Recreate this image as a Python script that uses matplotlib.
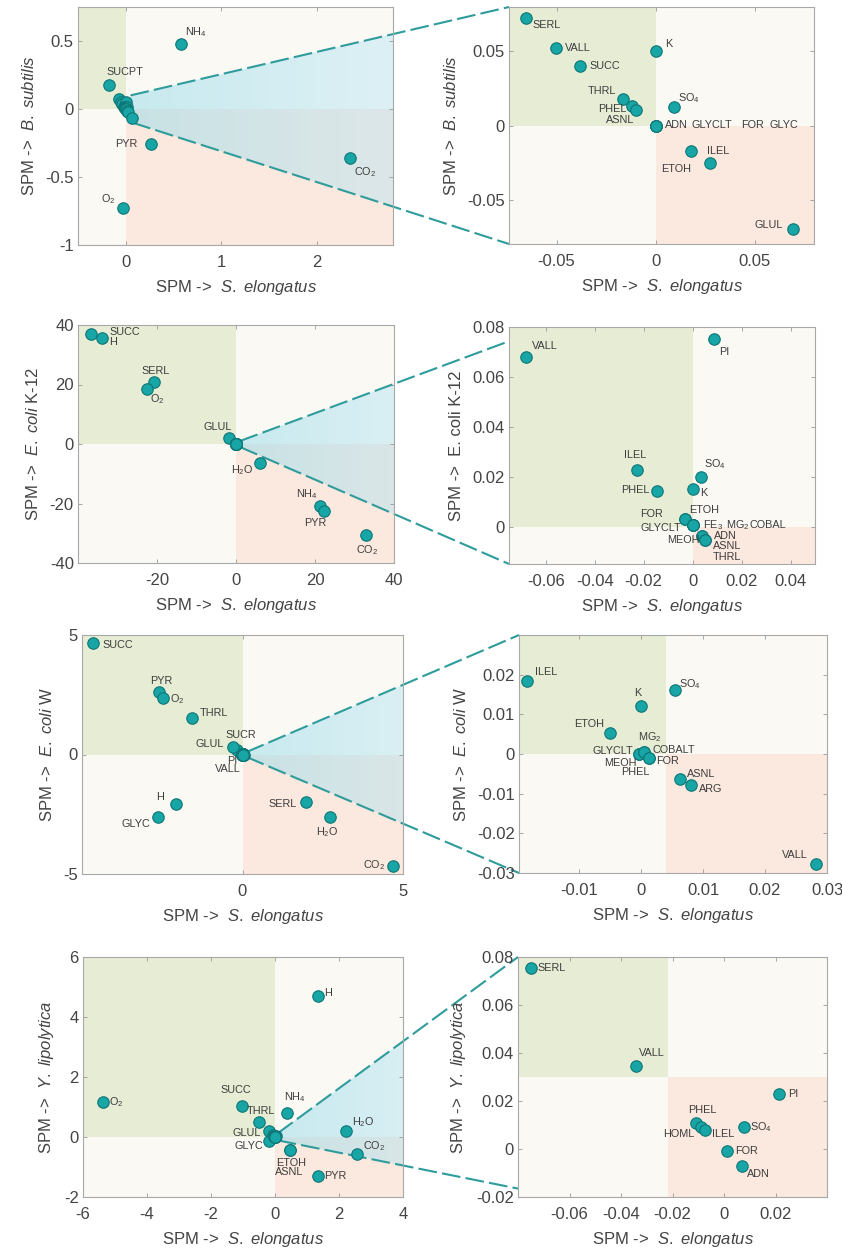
import numpy as np
import matplotlib
matplotlib.use("Agg")
import matplotlib.pyplot as plt
from matplotlib.patches import Rectangle, Polygon
from matplotlib.lines import Line2D
from matplotlib.ticker import FuncFormatter

plt.rcParams["font.family"] = "Liberation Sans"
plt.rcParams["mathtext.fontset"] = "custom"
plt.rcParams["mathtext.rm"] = "Liberation Sans"
plt.rcParams["mathtext.it"] = "Liberation Sans:italic"
plt.rcParams["axes.unicode_minus"] = False

# ---- B. subtilis vs S. elongatus
bs_names = ["NH$_4$", "SUCPT", "PYR", "CO$_2$", "O$_2$",
            "SERL", "VALL", "SUCC", "K", "THRL", "PHEL", "ASNL", "SO$_4$",
            "ADN", "GLYCLT", "FOR", "GLYC", "ETOH", "ILEL", "GLUL"]
bs_x = [0.58, -0.18, 0.26, 2.35, -0.03,
        -0.0655, -0.0505, -0.0383, 0.0003, -0.0163, -0.0118, -0.0097, 0.0095,
        0.0, 0.0, 0.0, 0.0, 0.0178, 0.0275, 0.0695]
bs_y = [0.48, 0.18, -0.26, -0.36, -0.73,
        0.0723, 0.052, 0.040, 0.050, 0.0176, 0.013, 0.0108, 0.0126,
        0.0, 0.0, 0.0, 0.0, -0.0173, -0.025, -0.0698]

# ---- E. coli K-12 vs S. elongatus
k12_names = ["SUCC", "H", "SERL", "O$_2$", "GLUL", "H$_2$O", "NH$_4$", "PYR", "CO$_2$",
             "VALL", "PI", "ILEL", "PHEL", "SO$_4$", "K", "FOR", "ETOH", "GLYCLT",
             "FE$_3$", "MG$_2$", "COBAL", "MEOH", "ADN", "ASNL", "THRL"]
k12_x = [-36.7, -34.0, -20.8, -22.5, -1.85, 6.1, 21.3, 22.4, 32.9,
         -0.068, 0.0088, -0.0226, -0.0144, 0.0034, 0.0, -0.0031, -0.0031, 0.0,
         0.0, 0.0, 0.0, 0.0037, 0.0037, 0.005, 0.005]
k12_y = [36.9, 35.6, 21.0, 18.5, 1.9, -6.4, -21.0, -22.5, -30.7,
         0.068, 0.075, 0.0225, 0.0144, 0.0198, 0.0151, 0.0029, 0.0029, 0.0007,
         0.0007, 0.0007, 0.0007, -0.0036, -0.0036, -0.0054, -0.0054]

# ---- E. coli W vs S. elongatus
w_names = ["SUCC", "PYR", "O$_2$", "THRL", "SUCR", "GLUL", "PI", "H", "GLYC",
           "SERL", "H$_2$O", "CO$_2$",
           "ILEL", "K", "SO$_4$", "ETOH", "GLYCLT", "MEOH", "MG$_2$", "COBALT",
           "FOR", "PHEL", "ASNL", "ARG", "VALL"]
w_x = [-4.65, -2.6, -2.48, -1.56, -0.17, -0.29, 0.04, -2.08, -2.64,
       1.98, 2.73, 4.69,
       -0.0184, 0.0, 0.0054, -0.005, -0.0003, -0.0003, 0.0004, 0.0004,
       0.0012, 0.0012, 0.0063, 0.008, 0.0283]
w_y = [4.66, 2.6, 2.37, 1.54, 0.2, 0.31, 0.0, -2.09, -2.63,
       -1.97, -2.63, -4.68,
       0.0183, 0.0122, 0.0162, 0.0052, 0.0, 0.0, 0.0006, 0.0006,
       -0.0011, -0.0011, -0.0063, -0.0079, -0.0278]

# ---- Y. lipolytica vs S. elongatus
yl_names = ["H", "O$_2$", "SUCC", "THRL", "NH$_4$", "GLUL", "GLYC", "H$_2$O", "CO$_2$",
            "ETOH", "ASNL", "PYR",
            "SERL", "VALL", "PI", "PHEL", "HOML", "ILEL", "SO$_4$", "FOR", "ADN"]
yl_x = [1.34, -5.37, -1.03, -0.5, 0.38, -0.19, -0.18, 2.23, 2.57,
        0.47, 0.48, 1.34,
        -0.0751, -0.034, 0.0214, -0.011, -0.009, -0.0075, 0.0078, 0.0013, 0.0069]
yl_y = [4.69, 1.17, 1.04, 0.51, 0.81, 0.21, -0.14, 0.2, -0.57,
        -0.42, -0.44, -1.29,
        0.0753, 0.0344, 0.0231, 0.011, 0.0093, 0.0079, 0.0093, -0.0008, -0.007]

# label offsets in pixels (dx, dy, ha)
bs_left_lab = {"NH$_4$": (4, 12, "left"), "SUCPT": (16, 13, "center"),
               "PYR": (-13, 0, "right"), "CO$_2$": (4, -14, "left"),
               "O$_2$": (-7, 9, "right")}
bs_right_lab = {"SERL": (7, -7, "left"), "VALL": (9, 0, "left"), "SUCC": (10, 0, "left"),
                "K": (9, 7, "left"), "THRL": (-7, 8, "right"), "PHEL": (-6, -3, "right"),
                "ASNL": (-2, -10, "right"), "SO$_4$": (4, 9, "left"),
                "ADN": (9, 0, "left"), "GLYCLT": (36, 0, "left"), "FOR": (86, 0, "left"),
                "GLYC": (114, 0, "left"), "ILEL": (-3, 12, "left"),
                "ETOH": (-15, -18, "center"), "GLUL": (-10, 4, "right")}
k12_left_lab = {"SUCC": (18, 2, "left"), "H": (7, -4, "left"), "SERL": (2, 11, "center"),
                "O$_2$": (3, -10, "left"), "GLUL": (-11, 11, "center"),
                "H$_2$O": (-18, -7, "center"), "NH$_4$": (-13, 12, "center"),
                "PYR": (-9, -12, "center"), "CO$_2$": (1, -15, "center")}
k12_right_lab = {"VALL": (6, 11, "left"), "PI": (5, -13, "left"), "ILEL": (-2, 15, "center"),
                 "PHEL": (-8, 1, "right"), "SO$_4$": (3, 13, "left"), "K": (8, -4, "left"),
                 "ETOH": (4, 9, "left"), "FOR": (-22, 5, "right"),
                 "GLYCLT": (-11, -3, "right"), "FE$_3$": (10, 0, "left"),
                 "MG$_2$": (33, 0, "left"), "COBAL": (57, 0, "left"),
                 "MEOH": (-2, -4, "right"), "ADN": (12, 0, "left"),
                 "ASNL": (8, -6, "left"), "THRL": (8, -17, "left")}
w_left_lab = {"SUCC": (9, -2, "left"), "PYR": (2, 11, "center"), "O$_2$": (7, -1, "left"),
              "THRL": (7, 5, "left"), "SUCR": (4, 15, "center"), "GLUL": (-9, 3, "right"),
              "PI": (-12, -6, "center"), "VALL": (-16, -14, "center"),
              "H": (-16, 7, "center"), "GLYC": (-8, -7, "right"), "SERL": (-9, -2, "right"),
              "H$_2$O": (-3, -15, "center"), "CO$_2$": (-8, 1, "right")}
w_right_lab = {"ILEL": (8, 9, "left"), "K": (-3, 13, "center"), "SO$_4$": (4, 6, "left"),
               "ETOH": (-6, 9, "right"), "GLYCLT": (-6, 3, "right"),
               "MEOH": (-3, -9, "right"), "MG$_2$": (6, 15, "center"),
               "COBALT": (9, 2, "left"), "FOR": (8, -3, "left"),
               "PHEL": (-13, -14, "center"), "ASNL": (7, 5, "left"),
               "ARG": (8, -4, "left"), "VALL": (-9, 9, "right")}
yl_left_lab = {"H": (6, 3, "left"), "O$_2$": (6, 0, "left"), "SUCC": (-6, 16, "center"),
               "THRL": (2, 11, "center"), "NH$_4$": (8, 16, "center"),
               "GLUL": (-8, -2, "right"), "GLYC": (-6, -5, "right"),
               "H$_2$O": (6, 9, "left"), "CO$_2$": (6, 8, "left"),
               "ETOH": (1, -13, "center"), "ASNL": (-1, -22, "center"),
               "PYR": (6, 0, "left")}
yl_right_lab = {"SERL": (7, 0, "left"), "VALL": (15, 13, "center"), "PI": (9, 0, "left"),
                "PHEL": (7, 13, "center"), "HOML": (-6, -7, "right"),
                "ILEL": (7, -4, "left"), "SO$_4$": (6, 0, "left"),
                "FOR": (8, 0, "left"), "ADN": (5, -8, "left")}

GREEN = "#e7edd5"
PEACH = "#fbe8de"
BEIGE = "#fbf9f4"
TEAL = "#17a5a5"
EDGE = "#0f7676"
TXT = "#3d3d3d"
LINE = "#2f9c9c"

W, H = 842, 1255


def rect(l, t, r, b):
    return [l / W, 1 - b / H, (r - l) / W, (b - t) / H]


fig = plt.figure(figsize=(W / 100, H / 100), dpi=100)
fmt = FuncFormatter(lambda v, p: "%g" % v)
xlab = r"SPM ->  $\mathit{S.\ elongatus}$"


def panel(box, names, xs, ys, labels, xlim, ylim, split, xticks, yticks, ylabel):
    ax = fig.add_axes(rect(*box))
    ax.set_xlim(xlim)
    ax.set_ylim(ylim)
    ax.set_facecolor(BEIGE)
    sx, sy = split
    ax.add_patch(Rectangle((xlim[0], sy), sx - xlim[0], ylim[1] - sy,
                           color=GREEN, lw=0, zorder=0))
    ax.add_patch(Rectangle((sx, ylim[0]), xlim[1] - sx, sy - ylim[0],
                           color=PEACH, lw=0, zorder=0))
    ax.scatter(xs, ys, s=68, c=TEAL, edgecolors=EDGE, linewidths=0.8, zorder=3)
    for name, (dx, dy, ha) in labels.items():
        i = names.index(name)
        ax.annotate(name, (xs[i], ys[i]), xytext=(dx, dy), textcoords="offset pixels",
                    ha=ha, va="center", fontsize=7.8, color=TXT, zorder=4)
    ax.set_xticks(xticks)
    ax.set_yticks(yticks)
    ax.xaxis.set_major_formatter(fmt)
    ax.yaxis.set_major_formatter(fmt)
    ax.tick_params(direction="in", top=True, right=True, length=3, width=0.6,
                   color="#999999", labelsize=12, labelcolor="#444444")
    ax.tick_params(axis="x", pad=7)
    ax.tick_params(axis="y", pad=3)
    for s in ax.spines.values():
        s.set_color("#a8a8a8")
        s.set_linewidth(0.8)
    ax.set_xlabel(xlab, fontsize=12, color="#444444", labelpad=6)
    ax.set_ylabel(ylabel, fontsize=12, color="#444444", labelpad=6)
    return ax


def wedge(axl, axr, s_up, s_lo, e_up, e_lo):
    inv = fig.transFigure.inverted()
    p1 = inv.transform(axl.transData.transform(s_up))
    p4 = inv.transform(axl.transData.transform(s_lo))
    p2 = inv.transform(axr.transAxes.transform(e_up))
    p3 = inv.transform(axr.transAxes.transform(e_lo))
    poly = Polygon([p1, p2, p3, p4], closed=True, transform=fig.transFigure,
                   fc="none", ec="none")
    x0, x1 = min(p1[0], p4[0]), p2[0]
    y0, y1 = min(p3[1], p4[1]), max(p1[1], p2[1])
    t = np.linspace(0, 1, 200)
    c0 = np.array([0.58, 0.86, 0.92, 0.50])
    c1 = np.array([0.80, 0.92, 0.98, 0.45])
    grad = (c0[None, :] * (1 - t[:, None]) + c1[None, :] * t[:, None])[None, :, :]
    im = axl.imshow(grad, extent=(x0, x1, y0, y1), transform=fig.transFigure,
                    aspect="auto", zorder=1, interpolation="bilinear")
    im.set_clip_box(None)
    im.set_clip_path(poly)
    for a, b in [(p1, p2), (p4, p3)]:
        ln = Line2D([a[0], b[0]], [a[1], b[1]], transform=fig.transFigure,
                    color=LINE, lw=1.5, dashes=(9, 2.5), zorder=2)
        ln.set_clip_on(False)
        axl.add_line(ln)


# row 1
a = panel((78, 7, 393, 245), bs_names, bs_x, bs_y, bs_left_lab, (-0.5, 2.8), (-1, 0.75),
          (0, 0), [0, 1, 2], [-1, -0.5, 0, 0.5], r"SPM ->  $\mathit{B.\ subtilis}$")
b = panel((509, 7, 814, 244), bs_names, bs_x, bs_y, bs_right_lab, (-0.074, 0.08),
          (-0.08, 0.08), (0, 0), [-0.05, 0, 0.05], [-0.05, 0, 0.05],
          r"SPM ->  $\mathit{B.\ subtilis}$")
wedge(a, b, (0.05, 0.1), (0.07, -0.1), (0, 1), (0, 0))

# row 2
a = panel((78, 325, 394, 563), k12_names, k12_x, k12_y, k12_left_lab, (-40, 40), (-40, 40),
          (0, 0), [-20, 0, 20, 40], [-40, -20, 0, 20, 40],
          r"SPM ->  $\mathit{E.\ coli}$ K-12")
b = panel((509, 327, 815, 564), k12_names, k12_x, k12_y, k12_right_lab, (-0.075, 0.05),
          (-0.015, 0.08), (0, 0), [-0.06, -0.04, -0.02, 0, 0.02, 0.04],
          [0, 0.02, 0.04, 0.06, 0.08], "SPM ->  E. coli K-12")
wedge(a, b, (1, 1), (1, -1), (0, 0.94), (0, 0))

# row 3
a = panel((82, 635, 403, 874), w_names, w_x, w_y, w_left_lab, (-5, 5), (-5, 5),
          (0, 0), [0, 5], [-5, 0, 5], r"SPM ->  $\mathit{E.\ coli}$ W")
b = panel((519, 635, 827, 873), w_names, w_x, w_y, w_right_lab, (-0.0197, 0.03),
          (-0.03, 0.03), (0.0041, 0), [-0.01, 0, 0.01, 0.02, 0.03],
          [-0.03, -0.02, -0.01, 0, 0.01, 0.02], r"SPM ->  $\mathit{E.\ coli}$ W")
wedge(a, b, (0.12, 0.1), (0.12, -0.1), (0, 1), (0, 0))

# row 4
a = panel((83, 957, 403, 1197), yl_names, yl_x, yl_y, yl_left_lab, (-6, 4), (-2, 6),
          (0, 0), [-6, -4, -2, 0, 2, 4], [-2, 0, 2, 4, 6],
          r"SPM ->  $\mathit{Y.\ lipolytica}$")
b = panel((518, 957, 827, 1197), yl_names, yl_x, yl_y, yl_right_lab, (-0.08, 0.04),
          (-0.02, 0.08), (-0.0217, 0.0302), [-0.06, -0.04, -0.02, 0, 0.02],
          [-0.02, 0, 0.02, 0.04, 0.06, 0.08], r"SPM ->  $\mathit{Y.\ lipolytica}$")
wedge(a, b, (0.08, 0.12), (0.08, -0.11), (0, 1), (0, 0.035))

fig.savefig("out.png", dpi=100)
